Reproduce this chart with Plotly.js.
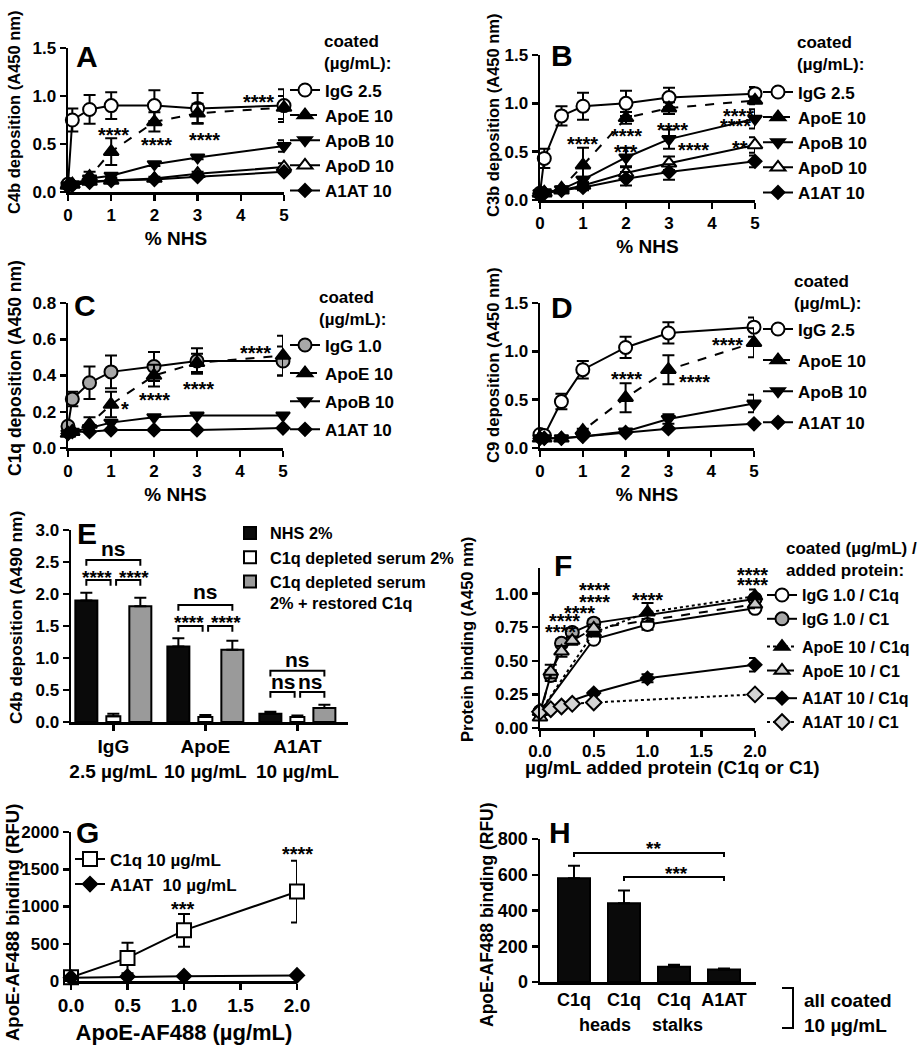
<!DOCTYPE html>
<html>
<head>
<meta charset="utf-8">
<script src="https://cdn.plot.ly/plotly-3.0.1.min.js"></script>
<style>body{margin:0;background:#fff}#chart{width:922px;height:1050px}</style>
</head>
<body>
<div id="chart"></div>
<script>
// % NHS used in panels A-D
const nhs = [0, 0.1, 0.5, 1, 2, 3, 5];

// A: C4b deposition
const aIgG = [0.08, 0.75, 0.86, 0.90, 0.90, 0.87, 0.90];
const aIgGErr = [0, 0.12, 0.15, 0.14, 0.16, 0.16, 0.17];
const aApoE = [0.07, 0.08, 0.16, 0.42, 0.73, 0.82, 0.88];
const aApoEErr = [0, 0, 0.05, 0.14, 0.10, 0.10, 0.12];
const aApoB = [0.07, 0.08, 0.14, 0.17, 0.29, 0.36, 0.48];
const aApoBErr = [0, 0, 0, 0.02, 0.02, 0.02, 0.06];
const aApoD = [0.07, 0.08, 0.11, 0.12, 0.14, 0.19, 0.26];
const aApoDErr = [0, 0, 0, 0.02, 0.02, 0.02, 0.04];
const aA1AT = [0.06, 0.07, 0.10, 0.12, 0.13, 0.16, 0.21];
const aA1ATErr = [0, 0, 0, 0, 0, 0, 0];

// B: C3b deposition
const bIgG = [0.07, 0.43, 0.87, 0.97, 1.00, 1.06, 1.10];
const bIgGErr = [0, 0.10, 0.10, 0.14, 0.13, 0.10, 0.07];
const bApoE = [0.07, 0.08, 0.12, 0.36, 0.85, 0.95, 1.03];
const bApoEErr = [0, 0, 0.02, 0.18, 0.06, 0.06, 0.04];
const bApoB = [0.07, 0.08, 0.11, 0.21, 0.44, 0.63, 0.84];
const bApoBErr = [0, 0, 0, 0.03, 0.10, 0.10, 0.10];
const bApoD = [0.07, 0.07, 0.10, 0.15, 0.28, 0.38, 0.57];
const bApoDErr = [0, 0, 0, 0.03, 0.07, 0.07, 0.08];
const bA1AT = [0.07, 0.07, 0.10, 0.13, 0.22, 0.29, 0.40];
const bA1ATErr = [0, 0, 0, 0.03, 0.07, 0.08, 0.06];

// C: C1q deposition
const cIgG = [0.12, 0.27, 0.36, 0.42, 0.45, 0.48, 0.48];
const cIgGErr = [0, 0.04, 0.09, 0.09, 0.08, 0.07, 0.08];
const cApoE = [0.08, 0.09, 0.13, 0.24, 0.40, 0.47, 0.51];
const cApoEErr = [0, 0, 0.04, 0.07, 0.06, 0.05, 0.11];
const cApoB = [0.08, 0.09, 0.11, 0.14, 0.17, 0.18, 0.18];
const cA1AT = [0.08, 0.09, 0.09, 0.10, 0.10, 0.10, 0.11];

// D: C9 deposition
const dIgG = [0.14, 0.13, 0.48, 0.81, 1.04, 1.19, 1.25];
const dIgGErr = [0, 0, 0.08, 0.09, 0.11, 0.11, 0.10];
const dApoE = [0.10, 0.10, 0.10, 0.18, 0.52, 0.81, 1.09];
const dApoEErr = [0, 0, 0, 0.02, 0.15, 0.15, 0.15];
const dApoB = [0.10, 0.10, 0.10, 0.12, 0.17, 0.30, 0.46];
const dApoBErr = [0, 0, 0, 0, 0.02, 0.05, 0.09];
const dA1AT = [0.10, 0.10, 0.10, 0.12, 0.16, 0.20, 0.25];

// E: C4b deposition, bars
const eGroups = ['IgG<br>2.5 µg/mL', 'ApoE<br>10 µg/mL', 'A1AT<br>10 µg/mL'];
const eNHS = [1.90, 1.18, 0.13];
const eNHSErr = [0.12, 0.13, 0.03];
const eDepleted = [0.09, 0.08, 0.08];
const eDepletedErr = [0.04, 0.03, 0.02];
const eRestored = [1.81, 1.13, 0.22];
const eRestoredErr = [0.13, 0.14, 0.05];
const eOuterY = [2.53, 1.83, 0.80];
const eOuterText = [2.71, 2.04, 0.97];
const eOuterLabel = ['ns', 'ns', 'ns'];
const eInnerY = [2.22, 1.50, 0.47];
const eInnerText = [2.35, 1.65, 0.63];
const eInnerLabel = ['****', '****', 'ns'];

// F: protein binding
const fDoseC1q = [0, 0.5, 1, 2];
const fDoseC1 = [0, 0.1, 0.2, 0.3, 0.5, 2];
const fIgGC1q = [0.12, 0.66, 0.77, 0.89];
const fIgGC1qErr = [0, 0.02, 0.04, 0.03];
const fIgGC1 = [0.12, 0.39, 0.63, 0.71, 0.78, 0.96];
const fIgGC1Err = [0, 0.04, 0.03, 0.03, 0.03, 0.03];
const fApoEC1q = [0.12, 0.71, 0.86, 0.98];
const fApoEC1qErr = [0, 0.03, 0.07, 0.05];
const fApoEC1 = [0.08, 0.42, 0.57, 0.65, 0.74, 0.92];
const fApoEC1Err = [0, 0.05, 0.04, 0.03, 0.03, 0.03];
const fA1ATC1q = [0.12, 0.26, 0.37, 0.47];
const fA1ATC1qErr = [0, 0.01, 0.03, 0.05];
const fA1ATC1 = [0.12, 0.14, 0.16, 0.18, 0.19, 0.25];

// G: ApoE-AF488 binding
const gDose = [0, 0.5, 1, 2];
const gC1q = [50, 310, 680, 1200];
const gC1qErr = [0, 205, 220, 415];
const gA1AT = [45, 60, 65, 75];

// H: ApoE-AF488 binding, bars
const hLabels = ['C1q', 'C1q heads', 'C1q stalks', 'A1AT'];
const hTickText = ['C1q', 'C1q', 'C1q', 'A1AT'];
const hBinding = [580, 440, 85, 70];
const hBindingErr = [70, 72, 12, 6];

// significance marks [panel, x, y, label]
const stars = [
  ['', 1.05, 0.66, '****'], ['', 2.05, 0.55, '****'], ['', 3.15, 0.60, '****'], ['', 4.4, 1.0, '****'],
  ['2', 0.98, 0.64, '****'], ['2', 2.02, 0.72, '****'], ['2', 2.0, 0.56, '***'], ['2', 3.07, 0.79, '****'],
  ['2', 3.56, 0.58, '****'], ['2', 4.62, 0.93, '****'], ['2', 4.55, 0.83, '****'], ['2', 4.65, 0.60, '**'],
  ['3', 1.33, 0.25, '*'], ['3', 2.02, 0.30, '****'], ['3', 3.03, 0.36, '****'], ['3', 4.35, 0.56, '****'],
  ['4', 2.03, 0.78, '****'], ['4', 3.62, 0.74, '****'], ['4', 4.37, 1.13, '****'],
  ['6', 0.19, 0.76, '****'], ['6', 0.23, 0.84, '****'], ['6', 0.37, 0.90, '****'], ['6', 0.51, 0.98, '****'],
  ['6', 0.51, 1.07, '****'], ['6', 1.0, 1.0, '****'], ['6', 1.98, 1.11, '****'], ['6', 1.98, 1.18, '****'],
  ['7', 0.99, 1047, '***'], ['7', 2.0, 1785, '****']
];

const W = 922, H = 1050;
const FONT = '"Liberation Sans", Arial, Helvetica, sans-serif';
const GRAY = '#a8a8a8';
const px = v => v / W;
const py = v => 1 - v / H;
const E_BARGAP = 0.12;

function errs(a) { return a.map(v => v > 0 ? v : NaN); }

function curve(n, x, y, err, name, o) {
  const t = {
    type: 'scatter', mode: 'lines+markers', x: x, y: y, name: name, showlegend: true,
    xaxis: 'x' + n, yaxis: 'y' + n, legend: 'legend' + n, cliponaxis: false,
    line: {color: '#000', width: 2, dash: o.dash || 'solid'},
    marker: {symbol: o.symbol, size: o.size || 12, color: o.fill || '#000', line: {color: '#000', width: 2}}
  };
  if (o.group) t.legendgroup = o.group;
  if (err) t.error_y = {type: 'data', array: errs(err), visible: true, color: '#000', thickness: 2, width: 6};
  return t;
}

function bars(n, x, y, err, name, fill, width) {
  const t = {
    type: 'bar', x: x, y: y, name: name, xaxis: 'x' + n, yaxis: 'y' + n, legend: 'legend' + n, showlegend: true,
    marker: {color: fill, line: {color: '#000', width: 2}},
    error_y: {type: 'data', symmetric: false, array: err, arrayminus: err.map(() => 0), color: '#000', thickness: 2, width: 6}
  };
  if (width) t.width = width;
  return t;
}

const traces = [
  curve('', nhs, aIgG, aIgGErr, 'IgG 2.5', {symbol: 'circle', size: 13, fill: '#fff'}),
  curve('', nhs, aApoE, aApoEErr, 'ApoE 10', {symbol: 'triangle-up', size: 13, dash: 'dash'}),
  curve('', nhs, aApoB, aApoBErr, 'ApoB 10', {symbol: 'triangle-down', size: 12}),
  curve('', nhs, aApoD, aApoDErr, 'ApoD 10', {symbol: 'triangle-up', size: 13, fill: '#fff'}),
  curve('', nhs, aA1AT, aA1ATErr, 'A1AT 10', {symbol: 'diamond', size: 10}),

  curve('2', nhs, bIgG, bIgGErr, 'IgG 2.5', {symbol: 'circle', size: 13, fill: '#fff'}),
  curve('2', nhs, bApoE, bApoEErr, 'ApoE 10', {symbol: 'triangle-up', size: 13, dash: 'dash'}),
  curve('2', nhs, bApoB, bApoBErr, 'ApoB 10', {symbol: 'triangle-down', size: 12}),
  curve('2', nhs, bApoD, bApoDErr, 'ApoD 10', {symbol: 'triangle-up', size: 13, fill: '#fff'}),
  curve('2', nhs, bA1AT, bA1ATErr, 'A1AT 10', {symbol: 'diamond', size: 10}),

  curve('3', nhs, cIgG, cIgGErr, 'IgG 1.0', {symbol: 'circle', size: 13, fill: GRAY, group: 'c1'}),
  curve('3', nhs, cApoE, cApoEErr, 'ApoE 10', {symbol: 'triangle-up', size: 13, dash: 'dash', group: 'c2'}),
  curve('3', nhs, cApoB, null, 'ApoB 10', {symbol: 'triangle-down', size: 12, group: 'c3'}),
  curve('3', nhs, cA1AT, null, 'A1AT 10', {symbol: 'diamond', size: 10, group: 'c4'}),

  curve('4', nhs, dIgG, dIgGErr, 'IgG 2.5', {symbol: 'circle', size: 13, fill: '#fff', group: 'd1'}),
  curve('4', nhs, dApoE, dApoEErr, 'ApoE 10', {symbol: 'triangle-up', size: 13, dash: 'dash', group: 'd2'}),
  curve('4', nhs, dApoB, dApoBErr, 'ApoB 10', {symbol: 'triangle-down', size: 12, group: 'd3'}),
  curve('4', nhs, dA1AT, null, 'A1AT 10', {symbol: 'diamond', size: 10, group: 'd4'}),

  bars('5', eGroups, eNHS, eNHSErr, 'NHS 2%', '#0a0a0a'),
  bars('5', eGroups, eDepleted, eDepletedErr, 'C1q depleted serum 2%', '#fff', 0.152),
  bars('5', eGroups, eRestored, eRestoredErr, 'C1q depleted serum<br>2% + restored C1q', '#9a9a9a'),

  curve('6', fDoseC1q, fIgGC1q, fIgGC1qErr, 'IgG 1.0 / C1q', {symbol: 'circle', size: 13, fill: '#fff', group: 'igg'}),
  curve('6', fDoseC1, fIgGC1, fIgGC1Err, 'IgG 1.0 / C1', {symbol: 'circle', size: 13, fill: GRAY, group: 'igg'}),
  curve('6', fDoseC1q, fApoEC1q, fApoEC1qErr, 'ApoE 10 / C1q', {symbol: 'triangle-up', size: 13, dash: 'dot', group: 'apoe'}),
  curve('6', fDoseC1, fApoEC1, fApoEC1Err, 'ApoE 10 / C1', {symbol: 'triangle-up', size: 13, fill: '#c8c8c8', dash: 'dash', group: 'apoe'}),
  curve('6', fDoseC1q, fA1ATC1q, fA1ATC1qErr, 'A1AT 10 / C1q', {symbol: 'diamond', size: 10, group: 'a1at'}),
  curve('6', fDoseC1, fA1ATC1, null, 'A1AT 10 / C1', {symbol: 'diamond', size: 12, fill: '#d4d4d4', dash: 'dot', group: 'a1at'}),

  curve('7', gDose, gC1q, gC1qErr, 'C1q 10 µg/mL', {symbol: 'square', size: 14, fill: '#fff'}),
  curve('7', gDose, gA1AT, null, 'A1AT&nbsp;&nbsp;10 µg/mL', {symbol: 'diamond', size: 11}),

  Object.assign(bars('8', hLabels, hBinding, hBindingErr, 'binding', '#0a0a0a', 0.64), {showlegend: false, legend: 'legend'})
];

function axis(extra) {
  return Object.assign({
    showline: true, linewidth: 2.5, linecolor: '#000', ticks: 'outside', ticklen: 6, tickwidth: 2.5,
    tickcolor: '#000', showgrid: false, zeroline: false, fixedrange: true, automargin: false,
    tickangle: 0, tickfont: {size: 17}
  }, extra);
}

function legendAt(sx, firstY, size, gap) {
  return {
    visible: true, x: px(sx - 20), y: py(firstY - (5 + (size * 1.3 + 3) / 2)), xanchor: 'left', yanchor: 'top',
    bgcolor: 'rgba(0,0,0,0)', borderwidth: 0, font: {size: size}, tracegroupgap: gap || 0,
    valign: 'top', orientation: 'v'
  };
}

const nhsTitle = {text: '% NHS', font: {size: 19}, standoff: 8};

const layout = {
  width: W, height: H, margin: {l: 0, r: 0, t: 0, b: 0},
  paper_bgcolor: '#fff', plot_bgcolor: 'rgba(0,0,0,0)',
  font: {family: FONT, size: 17, color: '#000', weight: 'bold'},
  showlegend: true,
  barmode: 'group', bargap: E_BARGAP, bargroupgap: 0.185,

  xaxis: axis({domain: [px(68), px(284)], range: [0, 5], dtick: 1, anchor: 'y', title: nhsTitle}),
  yaxis: axis({domain: [py(192), py(48)], range: [0, 1.5], dtick: 0.5, tickformat: '.1f', anchor: 'x'}),
  xaxis2: axis({domain: [px(540), px(755)], range: [0, 5], dtick: 1, anchor: 'y2', title: nhsTitle}),
  yaxis2: axis({domain: [py(200), py(55)], range: [0, 1.5], dtick: 0.5, tickformat: '.1f', anchor: 'x2'}),
  xaxis3: axis({domain: [px(68), px(283)], range: [0, 5], dtick: 1, anchor: 'y3', title: nhsTitle}),
  yaxis3: axis({domain: [py(448), py(303)], range: [0, 0.8], dtick: 0.2, tickformat: '.1f', anchor: 'x3'}),
  xaxis4: axis({domain: [px(540), px(754)], range: [0, 5], dtick: 1, anchor: 'y4', title: nhsTitle}),
  yaxis4: axis({domain: [py(448), py(303)], range: [0, 1.5], dtick: 0.5, tickformat: '.1f', anchor: 'x4'}),
  xaxis5: axis({domain: [px(71), px(348)], type: 'category', range: [-0.46, 2.55], anchor: 'y5', tickfont: {size: 19}}),
  yaxis5: axis({domain: [py(722), py(530)], range: [0, 3], dtick: 0.5, tickformat: '.1f', anchor: 'x5'}),
  xaxis6: axis({domain: [px(540), px(755)], range: [0, 2], dtick: 0.5, tickformat: '.1f', anchor: 'y6'}),
  yaxis6: axis({domain: [py(728), py(568)], range: [0, 1.19], dtick: 0.25, tickformat: '.2f', anchor: 'x6'}),
  xaxis7: axis({domain: [px(71), px(297)], range: [0, 2], dtick: 0.5, tickformat: '.1f', anchor: 'y7', tickfont: {size: 19}, title: {text: 'ApoE-AF488 (µg/mL)', font: {size: 22}, standoff: 10}}),
  yaxis7: axis({domain: [py(981), py(832)], range: [0, 2000], dtick: 500, anchor: 'x7'}),
  xaxis8: axis({domain: [px(540), px(756)], type: 'category', range: [-0.68, 3.64], ticks: '', anchor: 'y8',
    tickmode: 'array', tickvals: hLabels, ticktext: hTickText, tickfont: {size: 18}}),
  yaxis8: axis({domain: [py(982), py(839)], range: [0, 800], dtick: 200, anchor: 'x8', tickfont: {size: 18}}),

  legend: legendAt(305, 90, 17),
  legend2: legendAt(778, 92, 17),
  legend3: legendAt(305, 345, 17, 3),
  legend4: legendAt(778, 329, 17, 6),
  legend5: legendAt(250, 533, 16.3, 0),
  legend6: legendAt(782, 595, 16, 4),
  legend7: legendAt(90, 859, 17),

  annotations: [],
  shapes: []
};

const ann = layout.annotations;
const note = (text, x, y, size, extra) => ann.push(Object.assign({
  text: text, x: px(x), y: py(y), xref: 'paper', yref: 'paper', showarrow: false,
  font: {size: size}, xanchor: 'center', yanchor: 'middle'
}, extra || {}));

// panel letters
[['A', 87, 57], ['B', 562, 55], ['C', 85, 305], ['D', 562, 307],
 ['E', 87, 533], ['F', 563, 565], ['G', 87, 832], ['H', 560, 832]]
  .forEach(l => note(l[0], l[1], l[2], 30));

// y-axis titles
[['C4b deposition (A450 nm)', 14, 112, 16.5], ['C3b deposition (A450 nm)', 493, 115, 16.5],
 ['C1q deposition (A450 nm)', 15, 368, 17.5], ['C9 deposition (A450 nm)', 493, 365, 16.7],
 ['C4b deposition (A490 nm)', 16, 618, 17.3], ['Protein binding (A450 nm)', 467, 640, 16.5],
 ['ApoE-AF488 binding (RFU)', 12, 923, 18.5], ['ApoE-AF488 binding (RFU)', 487, 915, 17.5]]
  .forEach(t => note(t[0], t[1], t[2], t[3], {textangle: -90}));

// legend headings and loose labels
note('coated<br>(µg/mL):', 322, 52, 17, {xanchor: 'left', align: 'left'});
note('coated<br>(µg/mL):', 795, 54, 17, {xanchor: 'left', align: 'left'});
note('coated<br>(µg/mL):', 317, 308, 17, {xanchor: 'left', align: 'left'});
note('coated<br>(µg/mL):', 792, 293, 17, {xanchor: 'left', align: 'left'});
note('coated (µg/mL) /<br>added protein:', 784, 559, 17, {xanchor: 'left', align: 'left'});
note('µg/mL added protein (C1q or C1)', 672, 767, 19);
note('all coated<br>10 µg/mL', 802, 1013, 19, {xanchor: 'left', align: 'left'});
ann.push({text: 'heads', x: 0.62, xref: 'x8', y: py(1025), yref: 'paper', yanchor: 'middle', showarrow: false, font: {size: 18}});
ann.push({text: 'stalks', x: 2.06, xref: 'x8', y: py(1025), yref: 'paper', yanchor: 'middle', showarrow: false, font: {size: 18}});
layout.shapes.push({type: 'path', xref: 'paper', yref: 'paper',
  path: `M${px(782)},${py(988)} L${px(793)},${py(988)} L${px(793)},${py(1028)} L${px(782)},${py(1028)}`,
  line: {color: '#000', width: 2}});

// significance stars
stars.forEach(s => ann.push({
  text: s[3], x: s[1], y: s[2], xref: 'x' + s[0], yref: 'y' + s[0], showarrow: false,
  font: {size: 20}, yshift: -6
}));

// brackets
function bracket(n, x0, x1, y, drop) {
  layout.shapes.push({type: 'path', xref: 'x' + n, yref: 'y' + n,
    path: `M${x0},${y - drop} L${x0},${y} L${x1},${y} L${x1},${y - drop}`,
    line: {color: '#000', width: 2}});
}
function bracketText(n, text, x, y, isStar) {
  ann.push({text: text, x: x, y: y, xref: 'x' + n, yref: 'y' + n, showarrow: false,
    font: {size: isStar ? 19 : 21}, yshift: isStar ? -6 : 0});
}

const eOff = (1 - E_BARGAP) / 3;
eGroups.forEach((g, i) => {
  bracket('5', i - eOff, i + eOff, eOuterY[i], 0.09);
  bracket('5', i - eOff, i - 0.03, eInnerY[i], 0.09);
  bracket('5', i + 0.03, i + eOff, eInnerY[i], 0.09);
  bracketText('5', eOuterLabel[i], i, eOuterText[i], false);
  const star = eInnerLabel[i] !== 'ns';
  bracketText('5', eInnerLabel[i], star ? i - 0.18 : i - eOff / 2, eInnerText[i], star);
  bracketText('5', eInnerLabel[i], star ? i + 0.22 : i + eOff / 2, eInnerText[i], star);
});

bracket('8', 0, 3, 722, 22);
bracket('8', 1, 3, 587, 22);
bracketText('8', '**', 1.58, 783, true);
bracketText('8', '***', 2.04, 638, true);

Plotly.newPlot('chart', traces, layout, {staticPlot: true, displayModeBar: false});
</script>
</body>
</html>
